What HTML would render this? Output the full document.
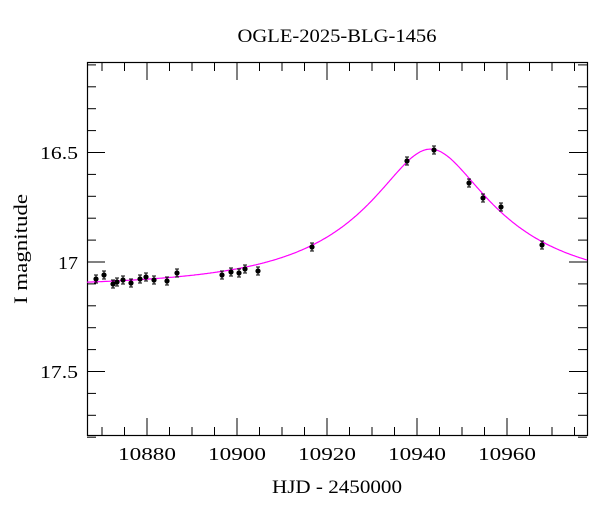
<!DOCTYPE html>
<html><head><style>body{margin:0;background:#fff}svg{display:block}</style></head><body>
<svg id="S" width="600" height="512" xmlns="http://www.w3.org/2000/svg" font-family="Liberation Serif, serif">
<rect width="600" height="512" fill="#fff"/>
<text x="337" y="42" font-size="19" text-anchor="middle" textLength="199" lengthAdjust="spacingAndGlyphs">OGLE-2025-BLG-1456</text>
<g id="ticks" stroke="#000" stroke-width="1"></g>
<rect x="87.5" y="62.5" width="500" height="373" fill="none" stroke="#000" stroke-width="1.2"/>
<path id="curve" fill="none" stroke="#f0f" stroke-width="1.2"/>
<g id="pts"></g>
<g font-size="18" text-anchor="end" lengthAdjust="spacingAndGlyphs">
<text x="78" y="159" textLength="38" lengthAdjust="spacingAndGlyphs">16.5</text><text x="78" y="269" textLength="20" lengthAdjust="spacingAndGlyphs">17</text><text x="78" y="378" textLength="38" lengthAdjust="spacingAndGlyphs">17.5</text>
</g>
<g font-size="18" text-anchor="middle">
<text x="147" y="460" textLength="58" lengthAdjust="spacingAndGlyphs">10880</text><text x="237" y="460" textLength="58" lengthAdjust="spacingAndGlyphs">10900</text><text x="327" y="460" textLength="58" lengthAdjust="spacingAndGlyphs">10920</text><text x="417" y="460" textLength="58" lengthAdjust="spacingAndGlyphs">10940</text><text x="507" y="460" textLength="58" lengthAdjust="spacingAndGlyphs">10960</text>
</g>
<text x="337" y="493" font-size="19" text-anchor="middle" textLength="130" lengthAdjust="spacingAndGlyphs">HJD - 2450000</text>
<text transform="translate(27,249) rotate(-90)" font-size="19" text-anchor="middle" textLength="110" lengthAdjust="spacingAndGlyphs">I magnitude</text>
</svg>
<script>
var NS='http://www.w3.org/2000/svg';
function el(parent,tag,attrs){var e=document.createElementNS(NS,tag);for(var k in attrs)e.setAttribute(k,attrs[k]);parent.appendChild(e);return e;}
var X=function(t){return 147+(t-10880)*4.5}, Y=function(m){return 262+(m-17)*219};
var g=document.getElementById('ticks');
for(var t=10870;t<=10975;t+=5){var x=X(t),L=(t%20==0)?18:9;
 el(g,'line',{x1:x,y1:62,x2:x,y2:62+L});el(g,'line',{x1:x,y1:436,x2:x,y2:436-L});}
for(var i=0;i<=17;i++){var m=16.1+i*0.1,y=Y(m),L=(Math.abs(m*2-Math.round(m*2))<1e-6)?18:9;
 el(g,'line',{x1:87,y1:y,x2:87+L,y2:y});el(g,'line',{x1:587,y1:y,x2:587-L,y2:y});}
var d='',t0=10943,tE=38,u0=0.3,fs=0.32,m0=17.112;
for(var x=87;x<=587;x++){var t=10880+(x-147)/4.5,tau=(t-t0)/tE,u=Math.sqrt(u0*u0+tau*tau),A=(u*u+2)/(u*Math.sqrt(u*u+4));var m=m0-2.5*Math.log10(fs*A+1-fs);d+=(x==87?'M':'L')+x+','+Y(m).toFixed(1);}
document.getElementById('curve').setAttribute('d',d);
var P=[[96,279],[104,275],[113,284],[117,282],[123,280],[131,283],[140,279],[146,277],[154,280],[167,281],[177,273],[222,275],[231,272],[239,273],[245,269],[258,271],[312,247],[407,161],[434,150],[469,183],[483,198],[501,207],[542,245]];
var pg=document.getElementById('pts');
P.forEach(function(p){
 el(pg,'line',{x1:p[0],y1:p[1]-4,x2:p[0],y2:p[1]+4,stroke:'#000'});
 el(pg,'line',{x1:p[0]-2,y1:p[1]-4,x2:p[0]+2,y2:p[1]-4,stroke:'#000'});
 el(pg,'line',{x1:p[0]-2,y1:p[1]+4,x2:p[0]+2,y2:p[1]+4,stroke:'#000'});
 el(pg,'circle',{cx:p[0],cy:p[1],r:2.6,fill:'#000'});
});
</script>
</body></html>
